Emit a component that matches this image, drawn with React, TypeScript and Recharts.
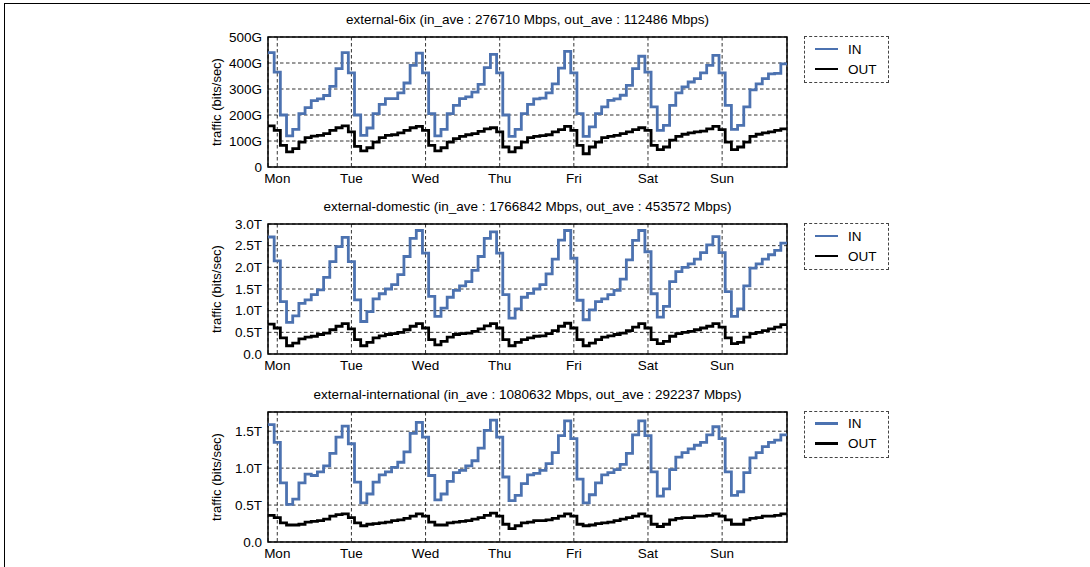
import React from 'react'
import { LineChart, Line, XAxis, YAxis, CartesianGrid, ReferenceArea } from 'recharts'

const DAYS = ['Mon', 'Tue', 'Wed', 'Thu', 'Fri', 'Sat', 'Sun']
const DAY_TICKS = [0, 24, 48, 72, 96, 120, 144]
// 2-hour bins, first bin starts 3h before Monday 00:00
const START_HOUR = -3
const BIN_HOURS = 2

// external-6ix, Gbps
const SIX_IN = [
  440, 365, 200, 120, 145, 205, 228, 255, 262, 275, 310, 378,
  440, 362, 200, 122, 150, 205, 241, 263, 263, 285, 323, 391,
  438, 362, 205, 120, 145, 205, 237, 263, 270, 288, 318, 382,
  433, 362, 200, 118, 145, 205, 241, 262, 265, 285, 320, 380,
  445, 362, 205, 118, 154, 205, 231, 256, 262, 276, 314, 378,
  426, 365, 231, 141, 160, 237, 285, 308, 327, 340, 362, 391,
  429, 362, 237, 145, 160, 231, 297, 320, 340, 358, 360, 397,
]
const SIX_OUT = [
  158, 141, 83, 58, 71, 96, 113, 119, 122, 128, 141, 151,
  158, 135, 79, 62, 74, 96, 113, 122, 124, 131, 141, 151,
  156, 141, 83, 62, 74, 96, 109, 118, 124, 128, 137, 147,
  151, 135, 77, 58, 74, 96, 113, 118, 121, 124, 135, 144,
  156, 141, 83, 51, 77, 96, 113, 118, 122, 128, 135, 144,
  151, 141, 83, 67, 77, 103, 118, 126, 131, 135, 138, 147,
  156, 144, 96, 67, 77, 96, 118, 126, 131, 135, 141, 147,
]

// external-domestic, Tbps
const DOM_IN = [
  2.70, 2.15, 1.21, 0.73, 0.88, 1.17, 1.25, 1.37, 1.48, 1.77, 2.13, 2.48,
  2.69, 2.13, 1.25, 0.75, 0.98, 1.27, 1.39, 1.50, 1.60, 1.83, 2.25, 2.67,
  2.85, 2.33, 1.33, 0.87, 1.06, 1.31, 1.47, 1.57, 1.67, 1.93, 2.25, 2.67,
  2.82, 2.33, 1.37, 0.83, 1.04, 1.31, 1.40, 1.50, 1.60, 1.85, 2.19, 2.63,
  2.85, 2.21, 1.24, 0.79, 1.02, 1.21, 1.27, 1.37, 1.47, 1.73, 2.17, 2.62,
  2.85, 2.36, 1.39, 0.85, 1.10, 1.67, 1.90, 2.00, 2.08, 2.19, 2.34, 2.52,
  2.71, 2.34, 1.44, 0.87, 1.04, 1.57, 1.98, 2.08, 2.19, 2.29, 2.39, 2.56,
]
const DOM_OUT = [
  0.69, 0.60, 0.37, 0.19, 0.25, 0.35, 0.39, 0.41, 0.45, 0.48, 0.56, 0.64,
  0.70, 0.58, 0.33, 0.19, 0.27, 0.37, 0.42, 0.45, 0.47, 0.50, 0.56, 0.64,
  0.70, 0.60, 0.33, 0.21, 0.29, 0.39, 0.45, 0.47, 0.48, 0.52, 0.58, 0.65,
  0.70, 0.60, 0.33, 0.19, 0.27, 0.33, 0.37, 0.41, 0.42, 0.47, 0.54, 0.64,
  0.71, 0.60, 0.33, 0.19, 0.25, 0.33, 0.39, 0.42, 0.45, 0.48, 0.54, 0.62,
  0.70, 0.60, 0.33, 0.24, 0.29, 0.41, 0.47, 0.50, 0.52, 0.56, 0.60, 0.64,
  0.70, 0.62, 0.37, 0.24, 0.27, 0.39, 0.47, 0.50, 0.54, 0.58, 0.62, 0.68,
]

// external-international, Tbps
const INTL_IN = [
  1.59, 1.35, 0.80, 0.51, 0.58, 0.80, 0.92, 0.90, 0.95, 1.03, 1.20, 1.42,
  1.57, 1.33, 0.81, 0.53, 0.65, 0.81, 0.91, 0.95, 1.01, 1.08, 1.22, 1.47,
  1.62, 1.42, 0.90, 0.57, 0.65, 0.82, 0.94, 0.97, 1.03, 1.10, 1.27, 1.51,
  1.65, 1.42, 0.88, 0.56, 0.63, 0.79, 0.91, 0.93, 0.97, 1.06, 1.21, 1.44,
  1.64, 1.40, 0.85, 0.53, 0.64, 0.80, 0.91, 0.94, 0.98, 1.05, 1.20, 1.45,
  1.64, 1.44, 0.95, 0.62, 0.72, 0.98, 1.15, 1.21, 1.26, 1.31, 1.35, 1.45,
  1.56, 1.40, 0.95, 0.63, 0.68, 0.94, 1.14, 1.21, 1.29, 1.35, 1.38, 1.45,
]
const INTL_OUT = [
  0.36, 0.33, 0.26, 0.23, 0.23, 0.24, 0.27, 0.28, 0.29, 0.31, 0.35, 0.37,
  0.38, 0.33, 0.26, 0.22, 0.24, 0.25, 0.26, 0.27, 0.29, 0.30, 0.32, 0.35,
  0.38, 0.35, 0.27, 0.23, 0.23, 0.26, 0.27, 0.28, 0.29, 0.31, 0.33, 0.36,
  0.39, 0.35, 0.24, 0.18, 0.22, 0.26, 0.27, 0.29, 0.29, 0.30, 0.32, 0.35,
  0.38, 0.35, 0.24, 0.22, 0.23, 0.25, 0.26, 0.27, 0.29, 0.31, 0.33, 0.35,
  0.38, 0.35, 0.24, 0.21, 0.24, 0.30, 0.32, 0.33, 0.33, 0.35, 0.35, 0.36,
  0.38, 0.35, 0.30, 0.24, 0.24, 0.30, 0.32, 0.33, 0.35, 0.35, 0.36, 0.38,
]

const SIX_TICKS = [0, 100, 200, 300, 400, 500]
const DOM_TICKS = [0, 0.5, 1, 1.5, 2, 2.5, 3]
const INTL_TICKS = [0, 0.5, 1, 1.5]

const BLUE = '#4c72b0'
const FONT = '"Liberation Sans", Arial, Helvetica, sans-serif'

const PLOT_LEFT = 268
const PLOT_RIGHT = 787
const PLOT_H = 130
const Y_AXIS_W = 60

const fmtG = (v: number) => (v === 0 ? '0' : `${v}G`)
const fmtT = (v: number) => (v === 0 ? '0.0' : `${v.toFixed(1)}T`)

const panels = [
  { title: 'external-6ix (in_ave : 276710 Mbps, out_ave : 112486 Mbps)', inData: SIX_IN, outData: SIX_OUT, ticks: SIX_TICKS, max: 500, fmt: fmtG, top: 37 },
  { title: 'external-domestic (in_ave : 1766842 Mbps, out_ave : 453572 Mbps)', inData: DOM_IN, outData: DOM_OUT, ticks: DOM_TICKS, max: 3, fmt: fmtT, top: 224 },
  { title: 'external-international (in_ave : 1080632 Mbps, out_ave : 292237 Mbps)', inData: INTL_IN, outData: INTL_OUT, ticks: INTL_TICKS, max: 1.76, fmt: fmtT, top: 411.5 },
]

function buildRows(inData: number[], outData: number[]) {
  const rows = inData.map((v, i) => ({ t: START_HOUR + i * BIN_HOURS, in: v, out: outData[i] }))
  // close the last bin so stepAfter draws it to the right edge
  const last = rows[rows.length - 1]
  rows.push({ t: last.t + BIN_HOURS, in: last.in, out: last.out })
  return rows
}

function Panel({ p }: { p: (typeof panels)[number] }) {
  const rows = buildRows(p.inData, p.outData)
  const xEnd = START_HOUR + p.inData.length * BIN_HOURS
  const marginTop = 10
  return (
    <>
      <div
        style={{
          position: 'absolute', left: PLOT_LEFT, width: PLOT_RIGHT - PLOT_LEFT, top: p.top - 25,
          textAlign: 'center', fontSize: 13.5, lineHeight: '16px', color: '#000', whiteSpace: 'nowrap',
        }}
      >
        {p.title}
      </div>
      <div style={{ position: 'absolute', left: 0, top: p.top - marginTop }}>
        <LineChart
          width={1090}
          height={marginTop + PLOT_H + 24}
          data={rows}
          margin={{ top: marginTop, right: 1090 - PLOT_RIGHT, bottom: 0, left: PLOT_LEFT - Y_AXIS_W }}
        >
          <CartesianGrid stroke="#000" strokeWidth={0.8} strokeDasharray="3.5 2.5" />
          <XAxis
            dataKey="t"
            type="number"
            domain={[START_HOUR, xEnd]}
            ticks={DAY_TICKS}
            interval={0}
            tickFormatter={(v: number) => DAYS[v / 24]}
            axisLine={false}
            tickLine={false}
            tickSize={4}
            height={24}
            tick={{ fill: '#000', fontSize: 13.5 }}
          />
          <YAxis
            type="number"
            domain={[0, p.max]}
            ticks={p.ticks}
            interval={0}
            tickFormatter={p.fmt}
            axisLine={false}
            tickLine={false}
            tickSize={4}
            tickMargin={2}
            width={Y_AXIS_W}
            tick={{ fill: '#000', fontSize: 13.5 }}
            label={{
              value: 'traffic (bits/sec)', angle: -90, position: 'insideLeft', offset: 8,
              style: { textAnchor: 'middle', fill: '#000', fontSize: 13 },
            }}
          />
          <ReferenceArea
            x1={START_HOUR} x2={xEnd} y1={0} y2={p.max}
            fill="none" fillOpacity={0} stroke="#000" strokeWidth={1.5} ifOverflow="visible"
          />
          <Line type="stepAfter" dataKey="in" stroke={BLUE} strokeWidth={2.8} dot={false} isAnimationActive={false} />
          <Line type="stepAfter" dataKey="out" stroke="#000" strokeWidth={2.8} dot={false} isAnimationActive={false} />
        </LineChart>
      </div>
      <div
        style={{
          position: 'absolute', left: 804, top: p.top - 1, width: 85, height: 47,
          border: '1px dashed #444', boxSizing: 'border-box', fontSize: 13.5,
        }}
      >
        {[{ name: 'IN', color: BLUE }, { name: 'OUT', color: '#000' }].map((e, i) => (
          <div key={e.name} style={{ position: 'absolute', left: 10, top: 3 + i * 20, height: 18, display: 'flex', alignItems: 'center' }}>
            <span style={{ display: 'inline-block', width: 23, height: 2.8, background: e.color }} />
            <span style={{ marginLeft: 10 }}>{e.name}</span>
          </div>
        ))}
      </div>
    </>
  )
}

export default function App() {
  return (
    <div
      style={{
        position: 'fixed', left: 0, top: 0, width: 1090, height: 567, background: '#fff',
        fontFamily: FONT, overflow: 'hidden',
      }}
    >
      <div style={{ position: 'absolute', left: 4, top: 3, width: 1086, borderTop: '1.5px solid #000' }} />
      <div style={{ position: 'absolute', left: 4, top: 3, height: 564, borderLeft: '1.5px solid #000' }} />
      {panels.map((p) => (
        <Panel key={p.title} p={p} />
      ))}
    </div>
  )
}
